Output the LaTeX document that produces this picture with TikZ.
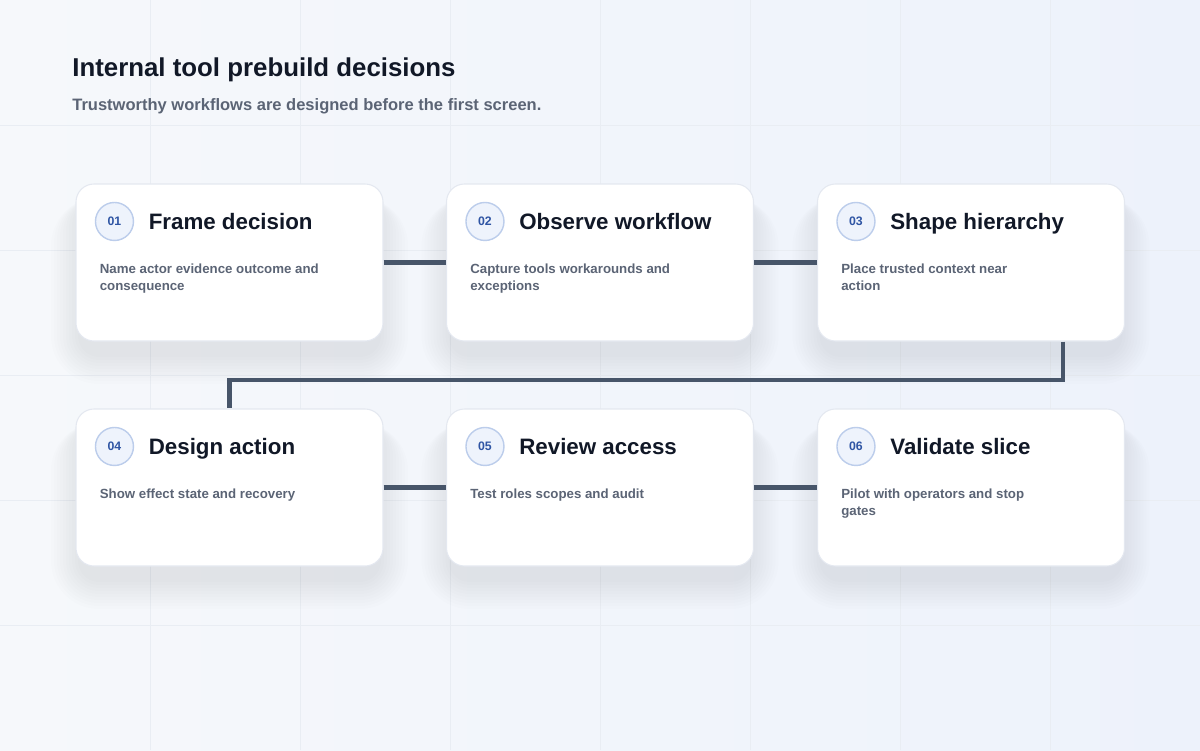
\documentclass[tikz,border=0pt]{standalone}
\usepackage{fontspec}
\setmainfont{Liberation Sans}
\usetikzlibrary{calc,positioning}
\definecolor{ink}{HTML}{111827}
\definecolor{slate}{HTML}{5B6475}
\definecolor{linkc}{HTML}{475569}
\definecolor{badgefill}{HTML}{EEF3FC}
\definecolor{badgeline}{HTML}{BCCDEB}
\definecolor{badgetext}{HTML}{2F55A4}
\definecolor{cardline}{HTML}{E4E8F0}
\definecolor{bgA}{HTML}{F6F8FB}
\definecolor{bgB}{HTML}{EDF2FB}
\definecolor{gridc}{HTML}{E9EDF3}
\definecolor{shadowc}{HTML}{1E2A4A}
\tikzset{
  card/.style={draw=cardline, line width=0.6pt, fill=white, rounded corners=0.36cm,
    minimum width=6.14cm, minimum height=3.14cm, inner sep=0pt},
  badge/.style={circle, draw=badgeline, fill=badgefill, line width=0.8pt, minimum size=0.76cm,
    inner sep=0pt, text=badgetext, font=\fontsize{7}{8}\selectfont\bfseries},
  cardtitle/.style={anchor=base west, text=ink, inner sep=0pt,
    font=\fontsize{12.7}{14}\selectfont\bfseries},
  cardbody/.style={anchor=north west, align=left, text=slate, inner sep=0pt,
    font=\fontsize{7.55}{9.7}\selectfont\bfseries},
  link/.style={draw=linkc, line width=2.3pt}
}
% card: name, x, y, number, title, body
\newcommand{\stepcard}[6]{%
  \foreach \k in {1,...,10}
    \fill[shadowc, opacity=0.008, rounded corners={0.36cm+\k*0.06cm}]
      ({#2-2.97-\k*0.06},{#3-1.57-0.26-\k*0.06}) rectangle ({#2+2.97+\k*0.06},{#3+1.3});
  \node[card] (#1) at (#2,#3) {};
  \node[badge] (#1n) at ($(#1.north west)+(0.78,-0.76)$) {#4};
  \node[cardtitle] (#1t) at ($(#1.north west)+(1.46,-0.92)$) {#5};
  \node[cardbody] (#1b) at ($(#1.north west)+(0.48,-1.56)$) {\strut#6};
}

\begin{document}
\begin{tikzpicture}
\shade[left color=bgA, right color=bgB] (0,0) rectangle (24,15);
\useasboundingbox (0,0) rectangle (24,15);
\foreach \x in {3,6,...,21} \draw[gridc, line width=0.5pt] (\x,0) -- (\x,15);
\foreach \y in {2.5,5,...,12.5} \draw[gridc, line width=0.5pt] (0,\y) -- (24,\y);

\node[anchor=base west, inner sep=0pt, text=ink, font=\fontsize{14.7}{16}\selectfont\bfseries] (head) at (1.44,13.46) {Internal tool prebuild decisions};
\node[anchor=base west, inner sep=0pt, text=slate, font=\fontsize{9.4}{11}\selectfont\bfseries] (sub) at (1.44,12.78) {Trustworthy workflows are designed before the first screen.};

\stepcard{c1}{4.59}{9.75}{01}{Frame decision}{Name actor evidence outcome and\\consequence}
\stepcard{c2}{12.0}{9.75}{02}{Observe workflow}{Capture tools workarounds and\\exceptions}
\stepcard{c3}{19.42}{9.75}{03}{Shape hierarchy}{Place trusted context near\\action}
\stepcard{c4}{4.59}{5.25}{04}{Design action}{Show effect state and recovery}
\stepcard{c5}{12.0}{5.25}{05}{Review access}{Test roles scopes and audit}
\stepcard{c6}{19.42}{5.25}{06}{Validate slice}{Pilot with operators and stop\\gates}

\draw[link] (c1.east) -- (c2.west);
\draw[link] (c2.east) -- (c3.west);
\draw[link] ([xshift=-1.24cm]c3.south east) -- ++(0,-0.76) -| (c4.north);
\draw[link] (c4.east) -- (c5.west);
\draw[link] (c5.east) -- (c6.west);
\end{tikzpicture}
\end{document}
